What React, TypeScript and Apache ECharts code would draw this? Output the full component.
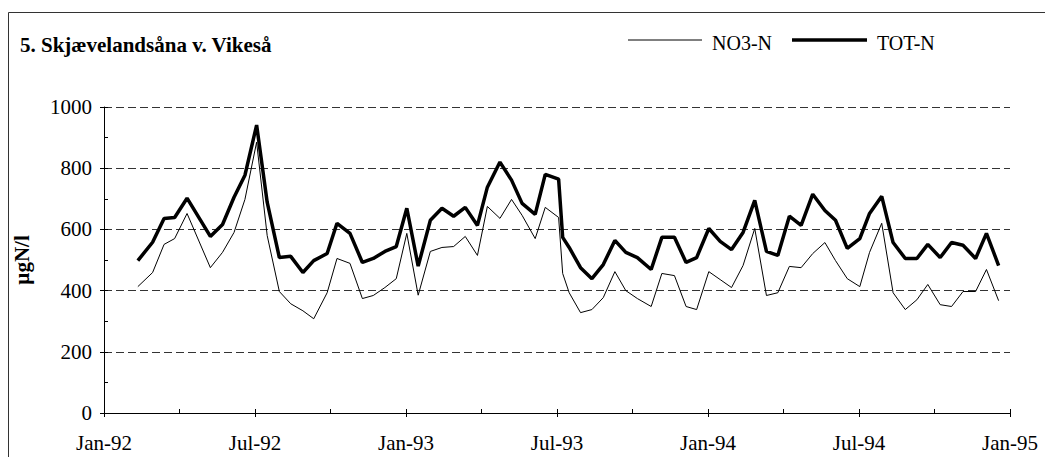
import React, { useEffect, useRef } from "react";
import * as echarts from "echarts";

const sampleDates = [
  "1992-02-11", "1992-02-28", "1992-03-13", "1992-03-26", "1992-04-10", "1992-05-08",
  "1992-05-23", "1992-06-06", "1992-06-19", "1992-07-03", "1992-07-16", "1992-07-31",
  "1992-08-14", "1992-08-29", "1992-09-11", "1992-09-27", "1992-10-09", "1992-10-25",
  "1992-11-09", "1992-11-22", "1992-12-06", "1992-12-20", "1993-01-02", "1993-01-16",
  "1993-01-31", "1993-02-13", "1993-02-26", "1993-03-12", "1993-03-27", "1993-04-08",
  "1993-04-23", "1993-05-07", "1993-05-20", "1993-06-05", "1993-06-17", "1993-07-03",
  "1993-07-08", "1993-07-16", "1993-07-30", "1993-08-13", "1993-08-27", "1993-09-10",
  "1993-09-23", "1993-10-07", "1993-10-24", "1993-11-06", "1993-11-21", "1993-12-05",
  "1993-12-18", "1994-01-02", "1994-01-16", "1994-01-30", "1994-02-12", "1994-02-25",
  "1994-03-11", "1994-03-25", "1994-04-08", "1994-04-22", "1994-05-06", "1994-05-21",
  "1994-06-03", "1994-06-17", "1994-07-02", "1994-07-14", "1994-07-29", "1994-08-12",
  "1994-08-27", "1994-09-10", "1994-09-23", "1994-10-08", "1994-10-22", "1994-11-05",
  "1994-11-20", "1994-12-03", "1994-12-18",
];

const totN = [
  498, 558, 636, 639, 702, 577, 616, 705, 777, 941, 689, 508,
  512, 459, 498, 521, 620, 587, 492, 505, 528, 544, 669, 480,
  630, 669, 643, 672, 613, 738, 820, 761, 685, 649, 780, 764,
  574, 541, 475, 439, 485, 564, 525, 508, 469, 574, 574, 492,
  508, 603, 561, 534, 590, 695, 528, 515, 643, 613, 715, 662,
  630, 538, 570, 652, 708, 557, 505, 505, 551, 508, 557, 548,
  505, 587, 482,
];

const no3N = [
  413, 459, 551, 570, 652, 475, 525, 590, 698, 885, 580, 397,
  357, 334, 308, 393, 505, 489, 374, 384, 410, 439, 587, 385,
  528, 541, 544, 577, 515, 675, 636, 698, 646, 570, 672, 639,
  456, 393, 328, 338, 377, 462, 400, 374, 348, 456, 449, 348,
  338, 462, 436, 410, 482, 603, 384, 393, 479, 475, 521, 557,
  498, 439, 413, 525, 620, 393, 338, 370, 420, 354, 348, 397,
  397, 469, 367,
];

const seriesNames = ["NO3-N", "TOT-N"];
const monthLabels = ["Jan", "Jul"];
const titleText = "5. Skjævelandsåna v. Vikeså";
const yAxisTitle = "µgN/l";

const START_YEAR = 1992;

function monthIndex(s: string): number {
  const [y, m, d] = s.split("-").map(Number);
  const dim = new Date(Date.UTC(y, m, 0)).getUTCDate();
  return (y - START_YEAR) * 12 + (m - 1) + (d - 1) / dim;
}

const FONT = "Liberation Serif";
const FS = 21;
const LEGEND_FS = 20;

export default function App() {
  const ref = useRef<HTMLDivElement>(null);

  useEffect(() => {
    if (!ref.current) return;
    const chart = echarts.init(ref.current, undefined, { renderer: "svg" });
    const xs = sampleDates.map(monthIndex);
    const no3Data = xs.map((x, i) => [x, no3N[i]]);
    const totData = xs.map((x, i) => [x, totN[i]]);

    chart.setOption({
      animation: false,
      backgroundColor: "#ffffff",
      textStyle: { fontFamily: FONT, color: "#000" },
      title: {
        text: titleText,
        left: 20,
        top: 34,
        padding: 0,
        textStyle: { fontFamily: FONT, fontSize: FS, fontWeight: "bold", color: "#000" },
      },
      graphic: [
        {
          type: "rect",
          shape: { x: 8.5, y: 12.5, width: 1200, height: 600 },
          style: { fill: "none", stroke: "#333", lineWidth: 1 },
          silent: true,
        },
        {
          type: "line",
          shape: { x1: 628, y1: 40, x2: 702, y2: 40 },
          style: { stroke: "#000", lineWidth: 1 },
          silent: true,
        },
        {
          type: "text",
          x: 712,
          y: 43,
          style: {
            text: seriesNames[0],
            fontFamily: FONT,
            fontSize: LEGEND_FS,
            fill: "#000",
            verticalAlign: "middle",
            align: "left",
          },
          silent: true,
        },
        {
          type: "line",
          shape: { x1: 792, y1: 40, x2: 867, y2: 40 },
          style: { stroke: "#000", lineWidth: 3.5 },
          silent: true,
        },
        {
          type: "text",
          x: 877,
          y: 43,
          style: {
            text: seriesNames[1],
            fontFamily: FONT,
            fontSize: LEGEND_FS,
            fill: "#000",
            verticalAlign: "middle",
            align: "left",
          },
          silent: true,
        },
      ],
      grid: { left: 104, right: 35, top: 107, bottom: 44 },
      xAxis: [
        {
          type: "value",
          min: 0,
          max: 36,
          interval: 6,
          axisLine: { show: true, onZero: false, lineStyle: { color: "#000", width: 1 } },
          axisTick: { show: true, inside: false, length: 4, lineStyle: { color: "#000" } },
          axisLabel: {
            margin: 19,
            fontFamily: FONT,
            fontSize: FS,
            color: "#000",
            formatter: (v: number) =>
              monthLabels[Math.round(v / 6) % 2] + "-" + String(92 + Math.floor(v / 12)),
          },
          splitLine: { show: false },
        },
        {
          type: "value",
          position: "bottom",
          min: 0,
          max: 36,
          interval: 3,
          axisLine: { show: false },
          axisTick: { show: true, inside: true, length: 4, lineStyle: { color: "#000" } },
          axisLabel: { show: false },
          splitLine: { show: false },
        },
      ],
      yAxis: [
        {
          type: "value",
          min: 0,
          max: 1000,
          interval: 200,
          name: yAxisTitle,
          nameLocation: "middle",
          nameRotate: 90,
          nameGap: 72,
          nameTextStyle: { fontFamily: FONT, fontSize: FS, fontWeight: "bold", color: "#000" },
          axisLine: { show: true, lineStyle: { color: "#000", width: 1 } },
          axisTick: { show: true, inside: false, length: 4, lineStyle: { color: "#000" } },
          axisLabel: {
            margin: 12,
            fontFamily: FONT,
            fontSize: FS,
            color: "#000",
            formatter: (v: number) => String(v),
          },
          splitLine: { show: true, lineStyle: { color: "#333", width: 1, type: [8, 4] } },
        },
        {
          type: "value",
          position: "left",
          min: 0,
          max: 1000,
          interval: 100,
          axisLine: { show: false },
          axisTick: { show: true, inside: true, length: 4, lineStyle: { color: "#000" } },
          axisLabel: { show: false },
          splitLine: { show: false },
        },
      ],
      series: [
        {
          name: seriesNames[0],
          type: "line",
          xAxisIndex: 0,
          yAxisIndex: 0,
          data: no3Data,
          showSymbol: false,
          symbol: "none",
          lineStyle: { color: "#000", width: 1 },
          itemStyle: { color: "#000" },
        },
        {
          name: seriesNames[1],
          type: "line",
          xAxisIndex: 0,
          yAxisIndex: 0,
          data: totData,
          showSymbol: false,
          symbol: "none",
          lineStyle: { color: "#000", width: 3.5 },
          itemStyle: { color: "#000" },
        },
      ],
    });
    return () => chart.dispose();
  }, []);

  return (
    <div
      ref={ref}
      style={{ position: "fixed", left: 0, top: 0, width: 1045, height: 457, background: "#fff" }}
    />
  );
}
